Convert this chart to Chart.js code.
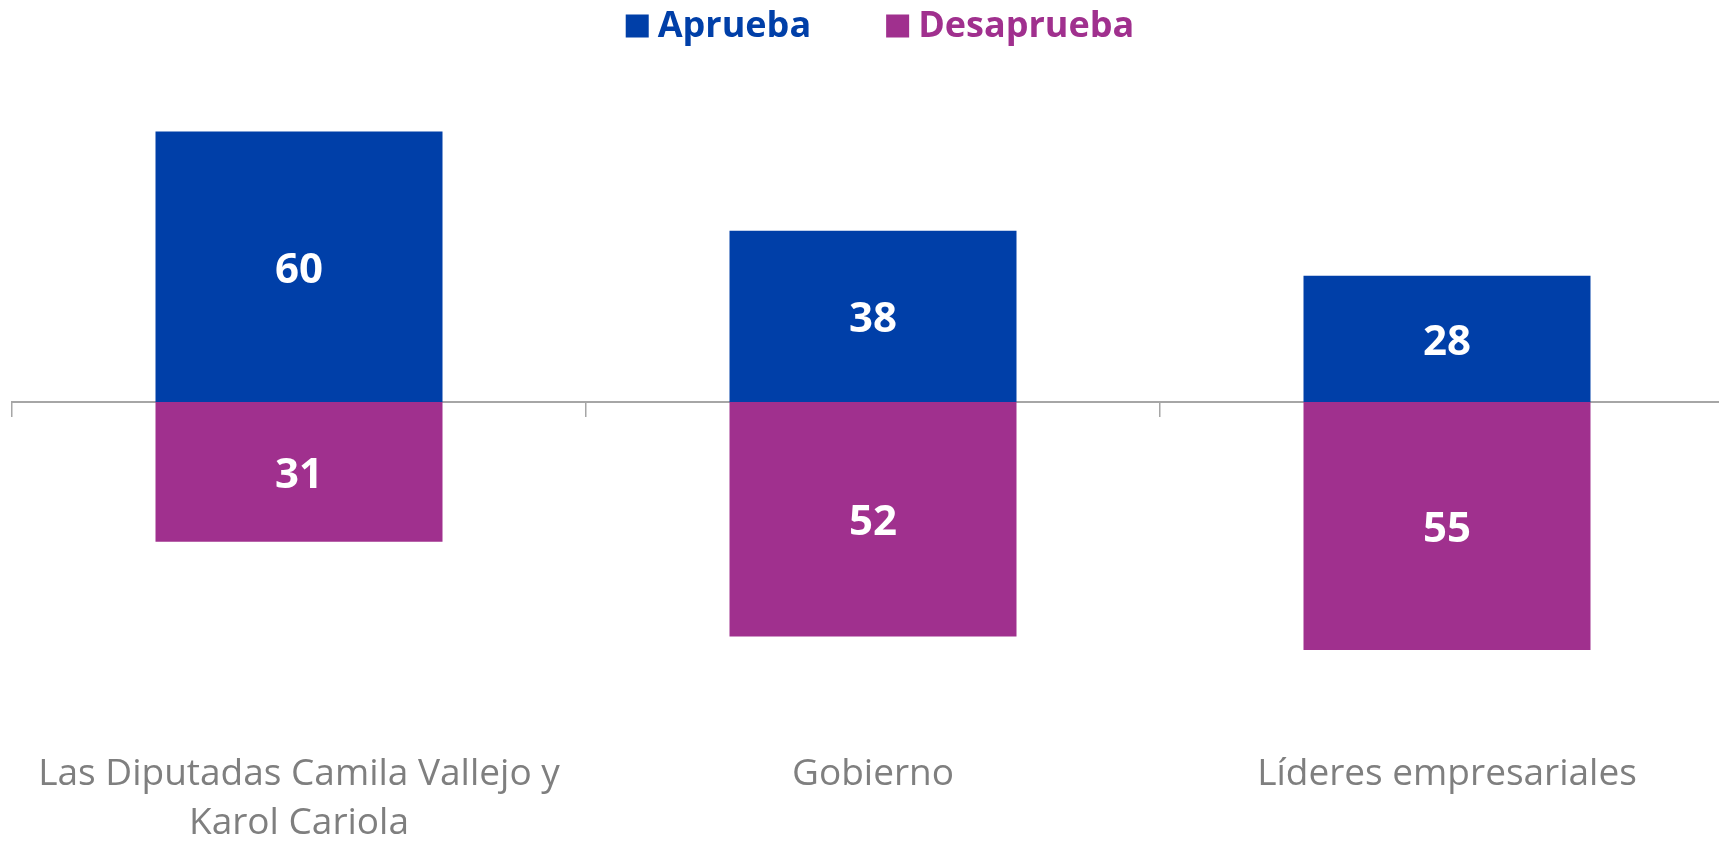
<!DOCTYPE html>
<html lang="es">
<head>
<meta charset="UTF-8">
<title>Aprueba / Desaprueba</title>
<style>
  body { margin: 0; padding: 0; background: #fff; overflow: hidden; }
  .frame { width: 1719px; height: 842px; overflow: hidden; position: relative; }
  .chart-box { width: 1740px; height: 892px; position: absolute; left: 0; top: 0; }
</style>
</head>
<body>
<div class="frame">
  <div class="chart-box">
    <canvas id="approvalChart"></canvas>
  </div>
</div>
<script src="https://cdn.jsdelivr.net/npm/chart.js"></script>
<script>
// data
const categories = [
  ["Las Diputadas Camila Vallejo y", "Karol Cariola"],
  "Gobierno",
  "Líderes empresariales"
];
const aprueba = [60, 38, 28];
const desaprueba = [31, 52, 55];
const seriesNames = ["Aprueba", "Desaprueba"];

const BLUE = "#003FA8";
const PURPLE = "#A0308E";
const GREY = "#7F7F7F";
const AXIS = "#A6A6A6";

// white value labels in the middle of each segment
const valueLabels = {
  id: "valueLabels",
  afterDatasetsDraw(chart) {
    const ctx = chart.ctx;
    ctx.save();
    ctx.fillStyle = "#fff";
    ctx.font = "bold 42px 'Open Sans'";
    ctx.textAlign = "center";
    ctx.textBaseline = "middle";
    chart.data.datasets.forEach((ds, i) => {
      chart.getDatasetMeta(i).data.forEach((bar, j) => {
        const v = Math.abs(ds.data[j]);
        ctx.fillText(v, bar.x, (bar.y + bar.base) / 2 + 4);
      });
    });
    ctx.restore();
  }
};

// legend on top: square + coloured bold text
const topLegend = {
  id: "topLegend",
  afterDraw(chart) {
    const ctx = chart.ctx;
    const colors = [BLUE, PURPLE];
    const box = 23, gapText = 9, gapItem = 75, cy = 26, cx = 880;
    ctx.save();
    ctx.font = "bold 36px 'Open Sans'";
    ctx.textBaseline = "middle";
    const widths = seriesNames.map(n => box + gapText + ctx.measureText(n).width);
    const total = widths.reduce((a, b) => a + b, 0) + gapItem * (widths.length - 1);
    let x = cx - total / 2;
    seriesNames.forEach((n, i) => {
      ctx.fillStyle = colors[i];
      ctx.fillRect(x, cy - box / 2, box, box);
      ctx.fillText(n, x + box + gapText, cy + 1);
      x += widths[i] + gapItem;
    });
    ctx.restore();
  }
};

new Chart(document.getElementById("approvalChart"), {
  type: "bar",
  data: {
    labels: categories,
    datasets: [
      {
        label: seriesNames[0],
        data: aprueba,
        backgroundColor: BLUE,
        borderWidth: 0
      },
      {
        label: seriesNames[1],
        data: desaprueba.map(v => -v),
        backgroundColor: PURPLE,
        borderWidth: 0
      }
    ]
  },
  options: {
    responsive: true,
    maintainAspectRatio: false,
    animation: false,
    barPercentage: 0.5,
    categoryPercentage: 1,
    layout: { padding: { top: 109, left: 12, right: 6, bottom: 12 } },
    plugins: {
      legend: { display: false },
      tooltip: { enabled: false }
    },
    scales: {
      x: {
        stacked: true,
        grid: { display: false, drawTicks: false },
        border: { display: false },
        ticks: {
          color: GREY,
          padding: 32,
          font: { family: "'Open Sans'", size: 37, lineHeight: 1.33 }
        }
      },
      x2: {
        type: "category",
        position: { y: 0 },
        z: 1,
        offset: true,
        grid: { drawOnChartArea: false, drawTicks: true, tickLength: 14, color: AXIS, lineWidth: 1.5 },
        border: { display: true, color: AXIS, width: 2 },
        ticks: { display: false }
      },
      y: {
        stacked: true,
        display: false,
        min: -70,
        max: 65
      }
    }
  },
  plugins: [valueLabels, topLegend]
});
</script>
</body>
</html>
